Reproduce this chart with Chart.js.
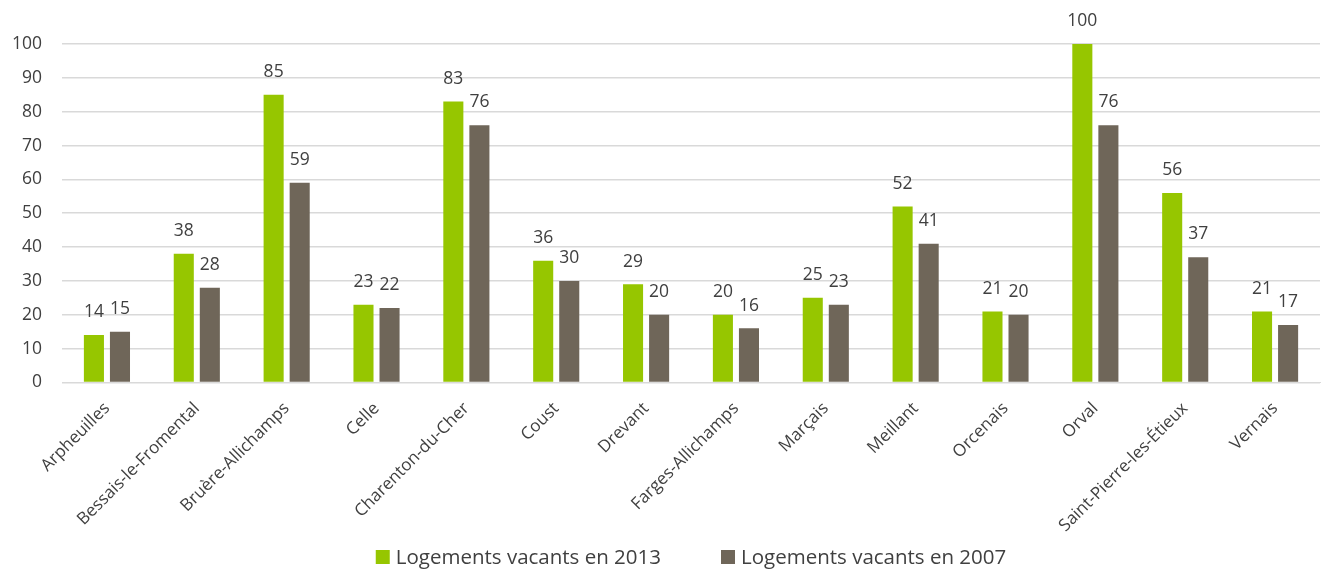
<!DOCTYPE html>
<html>
<head>
<meta charset="utf-8">
<script src="https://cdn.jsdelivr.net/npm/chart.js@4/dist/chart.umd.min.js"></script>
<style>
  html, body { margin: 0; padding: 0; background: #fff; }
  #wrap { width: 1332px; height: 569px; position: relative; }
</style>
</head>
<body>
<div id="wrap"><canvas id="graphe"></canvas></div>
<script>
const communes = ["Arpheuilles", "Bessais-le-Fromental", "Bruère-Allichamps", "Celle", "Charenton-du-Cher",
  "Coust", "Drevant", "Farges-Allichamps", "Marçais", "Meillant", "Orcenais", "Orval",
  "Saint-Pierre-les-Étieux", "Vernais"];
const vacants2013 = [14, 38, 85, 23, 83, 36, 29, 20, 25, 52, 21, 100, 56, 21];
const vacants2007 = [15, 28, 59, 22, 76, 30, 20, 16, 23, 41, 20, 76, 37, 17];
const ticksY = [0, 10, 20, 30, 40, 50, 60, 70, 80, 90, 100];

const police = "'Open Sans', Lato, sans-serif";

// etiquettes au-dessus des barres
const etiquettes = {
  id: "etiquettes",
  afterDatasetsDraw(chart) {
    const c = chart.ctx;
    c.save();
    c.font = "17.5px " + police;
    c.fillStyle = "#404040";
    c.textAlign = "center";
    c.textBaseline = "bottom";
    chart.data.datasets.forEach((ds, i) => {
      chart.getDatasetMeta(i).data.forEach((bar, j) => {
        c.fillText(ds.data[j], bar.x, bar.y - 14);
      });
    });
    c.restore();
  }
};

// legende en bas, dessinee a la main (ecart horizontal large, peu de hauteur)
const legendeBas = {
  id: "legendeBas",
  afterDraw(chart) {
    const c = chart.ctx;
    c.save();
    c.font = "20.5px " + police;
    c.textBaseline = "middle";
    const y = 557, boite = 14, ecart = 6, entre = 60;
    const items = chart.data.datasets.map(ds => ({ txt: ds.label, col: ds.backgroundColor, w: c.measureText(ds.label).width }));
    const total = items.reduce((s, it) => s + boite + ecart + it.w, 0) + entre * (items.length - 1);
    let x = (chart.width - total) / 2 + 25;
    items.forEach(it => {
      c.fillStyle = it.col;
      c.fillRect(x, y - boite / 2, boite, boite);
      x += boite + ecart;
      c.fillStyle = "#404040";
      c.fillText(it.txt, x, y + 1);
      x += it.w + entre;
    });
    c.restore();
  }
};

new Chart(document.getElementById("graphe"), {
  type: "bar",
  data: {
    labels: communes,
    datasets: [
      { label: "Logements vacants en 2013", data: vacants2013, backgroundColor: "#96C600",
        categoryPercentage: 0.58, barPercentage: 0.77 },
      { label: "Logements vacants en 2007", data: vacants2007, backgroundColor: "#6F6659",
        categoryPercentage: 0.58, barPercentage: 0.77 }
    ]
  },
  options: {
    responsive: true,
    maintainAspectRatio: false,
    animation: false,
    layout: { padding: { top: 44, right: 12, left: -8, bottom: 25 } },
    plugins: {
      legend: { display: false },
      tooltip: { enabled: false }
    },
    scales: {
      x: {
        grid: { display: false },
        border: { color: "#d9d9d9" },
        ticks: { color: "#404040", font: { size: 17, family: police }, maxRotation: 45, minRotation: 45, autoSkip: false, padding: 8 }
      },
      y: {
        min: 0, max: 100,
        afterBuildTicks: axis => { axis.ticks = ticksY.map(v => ({ value: v })); },
        grid: { color: "#d9d9d9", lineWidth: 1.5, drawTicks: false },
        border: { display: false },
        ticks: { color: "#404040", font: { size: 17.5, family: police }, padding: 20 }
      }
    }
  },
  plugins: [etiquettes, legendeBas]
});
</script>
</body>
</html>
